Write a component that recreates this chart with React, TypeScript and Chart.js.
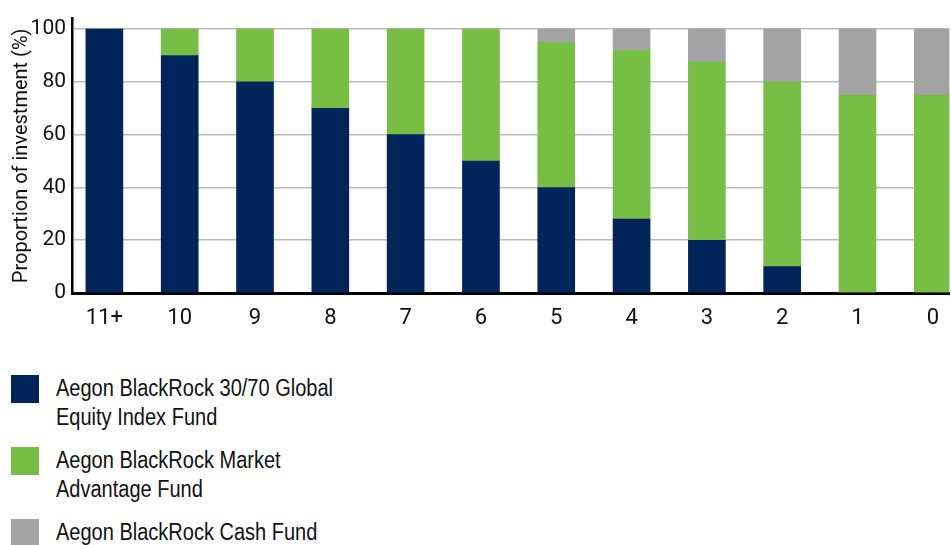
import React, { useEffect, useRef } from 'react';
import { Chart, registerables } from 'chart.js';

Chart.register(...registerables);

// ---- data ----
const categories = ['11+', '10', '9', '8', '7', '6', '5', '4', '3', '2', '1', '0'];
const equityFund = [100, 90, 80, 70, 60, 50, 40, 28, 20, 10, 0, 0];
const marketAdvantageFund = [0, 10, 20, 30, 40, 50, 55, 64, 67.5, 70, 75, 75];
const cashFund = [0, 0, 0, 0, 0, 0, 5, 8, 12.5, 20, 25, 25];
const yTickValues = [0, 20, 40, 60, 80, 100];
const seriesNames = [
  'Aegon BlackRock 30/70 Global Equity Index Fund',
  'Aegon BlackRock Market Advantage Fund',
  'Aegon BlackRock Cash Fund',
];
const legendLines = [
  ['Aegon BlackRock 30/70 Global', 'Equity Index Fund'],
  ['Aegon BlackRock Market', 'Advantage Fund'],
  ['Aegon BlackRock Cash Fund'],
];
const seriesColors = ['#01245b', '#77be44', '#a3a3a4'];
const yAxisTitle = 'Proportion of investment (%)';

const FONT = 'Roboto, "DejaVu Sans Condensed", sans-serif';
const LEGEND_FONT = '"Liberation Sans", Arial, sans-serif';

export default function App() {
  const ref = useRef<HTMLCanvasElement | null>(null);

  useEffect(() => {
    if (!ref.current) return;
    const series = [equityFund, marketAdvantageFund, cashFund];
    const chart = new Chart(ref.current, {
      type: 'bar',
      data: {
        datasets: series.map((vals, s) => ({
          label: seriesNames[s],
          data: vals.map((v, i) => ({ x: i, y: v })),
          backgroundColor: seriesColors[s],
          borderWidth: 0,
          barThickness: 37,
        })),
      },
      options: {
        animation: false,
        responsive: false,
        layout: { padding: { top: 17, left: 0, right: 0, bottom: 0 } },
        plugins: { legend: { display: false }, tooltip: { enabled: false } },
        scales: {
          x: {
            type: 'linear',
            stacked: true,
            offset: false,
            min: -0.43,
            max: 11.22,
            z: 1,
            grid: { display: false, drawTicks: false },
            border: { display: true, color: '#000', width: 3 },
            afterBuildTicks: (s: any) => {
              s.ticks = categories.map((_, i) => ({ value: i }));
            },
            afterFit: (s: any) => {
              s.height = 47;
            },
            ticks: {
              autoSkip: false,
              maxRotation: 0,
              padding: 12,
              color: '#111',
              font: { family: FONT, size: 22 },
              callback: (v: any) => categories[Math.round(Number(v))] ?? '',
            },
          },
          y: {
            stacked: true,
            min: 0,
            max: 104,
            afterBuildTicks: (s: any) => {
              s.ticks = yTickValues.map((v) => ({ value: v }));
            },
            afterFit: (s: any) => {
              s.width = 72;
            },
            grid: { color: '#bbbbbb', lineWidth: 1.5, drawTicks: false },
            border: { display: true, color: '#000', width: 2.5 },
            ticks: {
              padding: 6,
              color: '#111',
              font: { family: FONT, size: 21 },
            },
            title: {
              display: true,
              text: yAxisTitle,
              color: '#111',
              padding: { top: 10, bottom: 0 },
              font: { family: FONT, size: 20 },
            },
          },
        },
      },
    });
    return () => chart.destroy();
  }, []);

  return (
    <div
      style={{
        position: 'fixed',
        left: 0,
        top: 0,
        width: 951,
        height: 545,
        overflow: 'hidden',
        background: '#fff',
        fontFamily: LEGEND_FONT,
      }}
    >
      <canvas ref={ref} width={951} height={340} style={{ position: 'absolute', left: 0, top: 0 }} />
      {legendLines.map((lines, i) => (
        <div key={i} style={{ position: 'absolute', left: 11, top: 375 + i * 72 }}>
          <div style={{ position: 'absolute', left: 0, top: 0, width: 28, height: 28, background: seriesColors[i] }} />
          <div
            style={{
              position: 'absolute',
              left: 45,
              top: -1,
              fontSize: 23,
              lineHeight: '29px',
              color: '#111',
              whiteSpace: 'nowrap',
              transform: 'scaleX(0.87)',
              transformOrigin: 'left top',
            }}
          >
            {lines.map((l, j) => (
              <div key={j}>{l}</div>
            ))}
          </div>
        </div>
      ))}
    </div>
  );
}
